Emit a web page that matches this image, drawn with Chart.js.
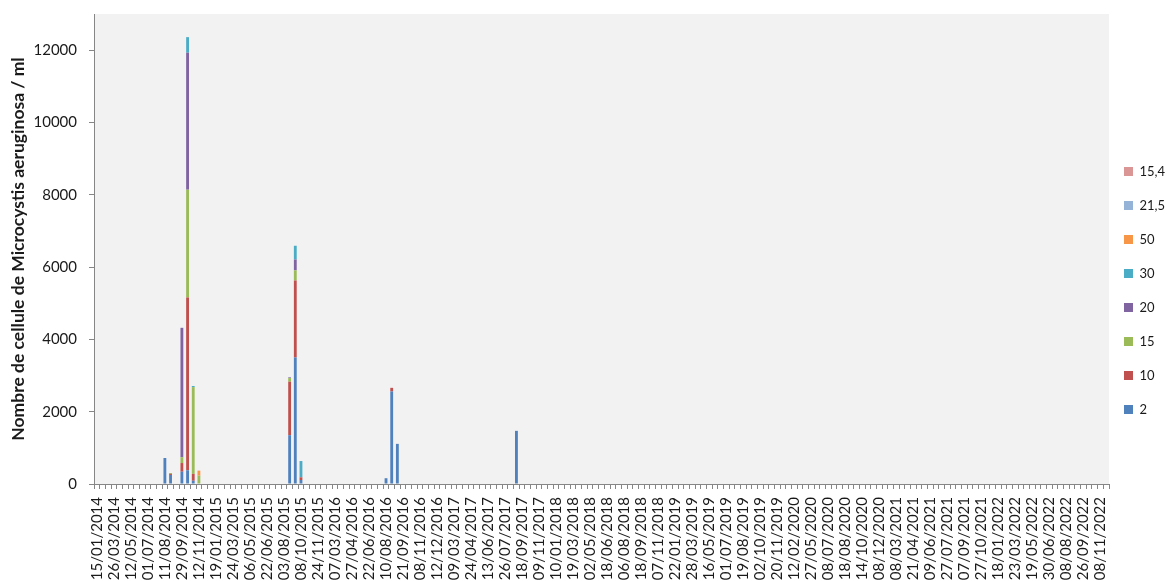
<!DOCTYPE html>
<html>
<head>
<meta charset="utf-8">
<script src="https://cdn.jsdelivr.net/npm/chart.js@4/dist/chart.umd.min.js"></script>
<style>
  html, body { margin: 0; padding: 0; background: #fff; }
  #wrap { width: 1167px; height: 581px; position: relative; }
</style>
</head>
<body>
<div id="wrap"><canvas id="cv"></canvas></div>
<script>
// dates shown on the axis (every 3rd category is labelled)
const tickLabels = [
  '15/01/2014','26/03/2014','12/05/2014','01/07/2014','11/08/2014','29/09/2014','12/11/2014',
  '19/01/2015','24/03/2015','06/05/2015','22/06/2015','03/08/2015','08/10/2015','24/11/2015',
  '07/03/2016','27/04/2016','22/06/2016','10/08/2016','21/09/2016','08/11/2016','12/12/2016',
  '09/03/2017','24/04/2017','13/06/2017','26/07/2017','18/09/2017','09/11/2017',
  '10/01/2018','19/03/2018','02/05/2018','18/06/2018','06/08/2018','18/09/2018','07/11/2018',
  '22/01/2019','28/03/2019','16/05/2019','01/07/2019','19/08/2019','02/10/2019','20/11/2019',
  '12/02/2020','27/05/2020','08/07/2020','18/08/2020','14/10/2020','08/12/2020',
  '08/03/2021','21/04/2021','09/06/2021','27/07/2021','07/09/2021','27/10/2021',
  '18/01/2022','23/03/2022','19/05/2022','30/06/2022','08/08/2022','26/09/2022','08/11/2022'
];
const nCategories = 179;
const labelEvery = 3;

// categories (by position) that carry a bar, and each series' value there
const barIdx = [12, 13, 15, 16, 17, 18, 34, 35, 36, 51, 52, 53, 74];
const s2   = [720, 250, 340, 380, 90, null, 1350, 3500, 110, 160, 2560, 1110, 1470];
const s10  = [null, 30, 240, 4780, 190, null, 1480, 2130, 75, null, 100, null, null];
const s15  = [null, 25, 160, 2980, 2400, 230, 100, 280, null, null, null, null, null];
const s20  = [null, null, 3580, 3790, null, null, 20, 300, null, null, null, null, null];
const s30  = [null, null, null, 430, 30, null, null, 380, 450, null, null, null, null];
const s50  = [null, null, null, null, null, 140, null, null, null, null, null, null, null];
const s215 = [null, null, null, null, null, null, null, null, null, null, null, null, null];
const s154 = [null, null, null, null, null, null, null, null, null, null, null, null, null];

const seriesNames  = ['2', '10', '15', '20', '30', '50', '21,5', '15,4'];
const seriesValues = [s2, s10, s15, s20, s30, s50, s215, s154];
const seriesColors = ['#4F81BD', '#C0504D', '#9BBB59', '#8064A2', '#4BACC6', '#F79646', '#95B3D7', '#D99694'];

const yTicks = [0, 2000, 4000, 6000, 8000, 10000, 12000];
const yMax = 13000;

const categories = Array.from({ length: nCategories }, (_, i) => i % labelEvery === 0 ? (tickLabels[i / labelEvery] || '') : '');

function spread(vals) {
  const out = new Array(nCategories).fill(null);
  barIdx.forEach((c, k) => { out[c] = vals[k]; });
  return out;
}

const datasets = seriesNames.map((name, i) => ({
  label: name,
  data: spread(seriesValues[i]),
  backgroundColor: seriesColors[i],
  borderWidth: 0,
  barPercentage: 0.5,
  categoryPercentage: 1,
}));

const AXIS = '#868686';
const INK = '#1a1a1a';
const FONT = 'Lato';

const plotBg = {
  id: 'plotBg',
  beforeDraw(chart) {
    const { ctx, chartArea: a } = chart;
    ctx.save();
    ctx.fillStyle = '#fff';
    ctx.fillRect(0, 0, chart.width, chart.height);
    ctx.fillStyle = '#F2F2F2';
    ctx.fillRect(a.left, a.top, a.right - a.left, a.bottom - a.top);
    ctx.restore();
  }
};

const noPad = (s) => { s.paddingTop = 0; s.paddingBottom = 0; s.paddingLeft = 0; s.paddingRight = 0; };

new Chart(document.getElementById('cv'), {
  type: 'bar',
  data: { labels: categories, datasets },
  plugins: [plotBg],
  options: {
    responsive: true,
    maintainAspectRatio: false,
    animation: false,
    layout: { padding: { top: 6, left: 0, right: 0, bottom: 0 } },
    plugins: {
      tooltip: { enabled: false },
      // empty title only reserves the strip above the plot
      title: { display: true, text: '', padding: 0, font: { size: 8, lineHeight: 1 } },
      legend: {
        position: 'right',
        reverse: true,
        maxWidth: 58,
        labels: {
          boxWidth: 9, boxHeight: 9, padding: 15,
          color: INK,
          // one-line arrays so the row pitch follows the font lineHeight
          font: { family: FONT, size: 13, lineHeight: 19 / 13 },
          generateLabels: (chart) => Chart.defaults.plugins.legend.labels.generateLabels(chart)
            .map((it) => Object.assign(it, { text: [it.text] })),
        },
      },
    },
    scales: {
      x: {
        stacked: true,
        afterFit: (s) => { s.height = 97; noPad(s); },
        grid: { drawOnChartArea: false, tickLength: 5, color: AXIS, offset: true },
        border: { color: AXIS, width: 1 },
        ticks: {
          autoSkip: false, minRotation: 90, maxRotation: 90, padding: 8,
          color: INK,
          font: { family: FONT, size: 15 },
          callback: (v, i) => categories[i],
        },
      },
      y: {
        stacked: true,
        min: 0,
        max: yMax,
        afterFit: (s) => { s.width = 94; noPad(s); },
        afterBuildTicks: (s) => { s.ticks = yTicks.map((v) => ({ value: v })); },
        grid: { drawOnChartArea: false, tickLength: 5, color: AXIS },
        border: { color: AXIS, width: 1 },
        ticks: {
          padding: 12,
          color: INK,
          font: { family: FONT, size: 15 },
          callback: (v) => String(v),
        },
        title: {
          display: true,
          text: 'Nombre de cellule de Microcystis aeruginosa / ml',
          color: INK,
          font: { family: FONT, size: 17.5, weight: 'bold' },
          padding: { top: 8, bottom: 0 },
        },
      },
    },
  },
});
</script>
</body>
</html>
